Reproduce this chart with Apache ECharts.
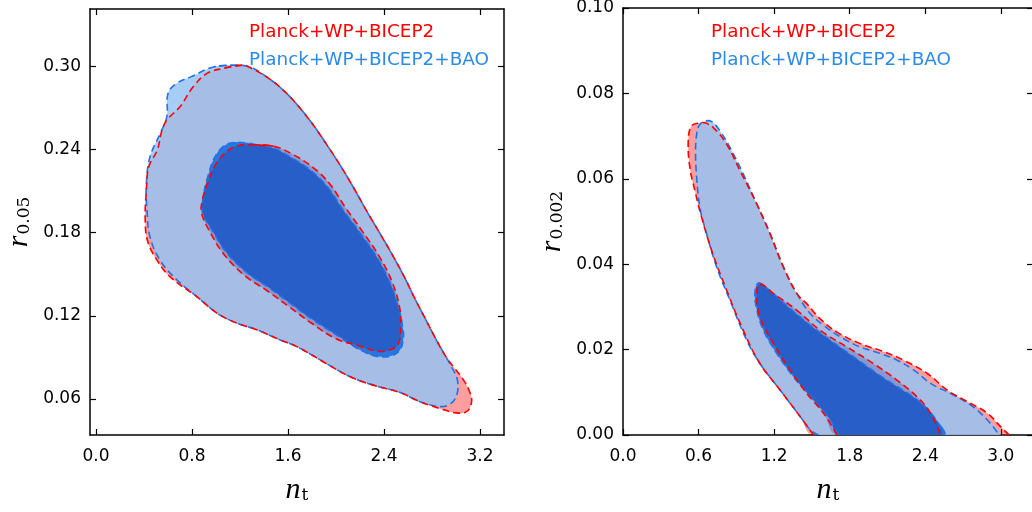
<!DOCTYPE html>
<html><head><meta charset="utf-8">
<script src="https://cdn.jsdelivr.net/npm/echarts@6/dist/echarts.min.js"></script>
<style>html,body{margin:0;padding:0;background:#fff}#c{width:1032px;height:512px}</style>
</head><body><div id="c"></div>
<script>
// ---- tick labels ----
const ticksX1 = [0, 0.8, 1.6, 2.4, 3.2];
const ticksY1 = [0.06, 0.12, 0.18, 0.24, 0.30];
const ticksX2 = [0, 0.6, 1.2, 1.8, 2.4, 3.0];
const ticksY2 = [0, 0.02, 0.04, 0.06, 0.08, 0.10];
const legendNames = ['Planck+WP+BICEP2', 'Planck+WP+BICEP2+BAO'];

// ---- left panel (n_t, r_0.05) contours ----
const redOuterL = [[1.22,0.301],[1.06,0.2986],[0.925,0.295],[0.81,0.2853],[0.70,0.271],[0.59,0.2613],[0.55,0.254],[0.51,0.2396],[0.44,0.2276],[0.42,0.2108],[0.41,0.19],[0.43,0.174],[0.51,0.160],[0.62,0.148],[0.84,0.1339],[1.01,0.1219],[1.175,0.1147],[1.34,0.110],[1.535,0.1026],[1.675,0.0978],[1.93,0.085],[2.12,0.076],[2.31,0.070],[2.54,0.0645],[2.70,0.058],[2.87,0.053],[3.00,0.050],[3.09,0.051],[3.13,0.058],[3.11,0.066],[3.06,0.074],[2.99,0.082],[2.92,0.090],[2.84,0.102],[2.75,0.117],[2.66,0.132],[2.57,0.148],[2.47,0.164],[2.37,0.179],[2.26,0.195],[2.15,0.212],[2.04,0.228],[1.92,0.244],[1.80,0.259],[1.68,0.272],[1.56,0.283],[1.43,0.292],[1.31,0.298]];
const blueOuterL = [[1.175,0.301],[0.98,0.2997],[0.79,0.2925],[0.67,0.2877],[0.60,0.2805],[0.59,0.2637],[0.535,0.2517],[0.45,0.2348],[0.42,0.2156],[0.425,0.1964],[0.45,0.1771],[0.535,0.160],[0.675,0.1459],[0.84,0.1339],[1.01,0.1219],[1.175,0.1147],[1.34,0.110],[1.535,0.1026],[1.675,0.0978],[1.93,0.085],[2.12,0.076],[2.31,0.070],[2.54,0.0645],[2.70,0.058],[2.87,0.0545],[2.96,0.057],[3.01,0.064],[3.01,0.0745],[2.97,0.082],[2.92,0.090],[2.84,0.102],[2.75,0.117],[2.66,0.132],[2.57,0.148],[2.47,0.164],[2.37,0.179],[2.26,0.195],[2.15,0.212],[2.04,0.228],[1.92,0.244],[1.80,0.259],[1.68,0.272],[1.56,0.283],[1.43,0.292],[1.30,0.299]];
const redInnerL = [[1.30,0.2435],[1.48,0.2425],[1.63,0.237],[1.81,0.227],[1.95,0.215],[2.08,0.198],[2.22,0.181],[2.36,0.163],[2.47,0.144],[2.53,0.126],[2.54,0.113],[2.52,0.100],[2.45,0.0955],[2.35,0.0945],[2.19,0.0985],[2.00,0.1035],[1.80,0.1145],[1.61,0.1265],[1.42,0.1385],[1.24,0.149],[1.07,0.164],[0.96,0.179],[0.88,0.194],[0.885,0.203],[0.93,0.216],[1.01,0.231],[1.12,0.2405],[1.22,0.2435]];
const blueInnerL = [[1.12,0.2447],[1.31,0.244],[1.48,0.241],[1.62,0.2346],[1.79,0.225],[1.93,0.213],[2.06,0.1964],[2.20,0.180],[2.34,0.1625],[2.45,0.144],[2.52,0.1264],[2.55,0.115],[2.56,0.1026],[2.51,0.0933],[2.37,0.0904],[2.20,0.0954],[2.01,0.106],[1.81,0.117],[1.62,0.129],[1.43,0.141],[1.26,0.151],[1.09,0.1654],[0.98,0.180],[0.89,0.194],[0.89,0.2036],[0.93,0.220],[1.01,0.2375]];

// ---- right panel (n_t, r_0.002) contours ----
const redOuterR = [[1.513,0],[1.407,0.0043],[1.248,0.0105],[1.088,0.0167],[0.955,0.0245],[0.823,0.0339],[0.704,0.0432],[0.624,0.0510],[0.571,0.0572],[0.531,0.0626],[0.518,0.0689],[0.545,0.0724],[0.611,0.0731],[0.65,0.0731],[0.717,0.0720],[0.823,0.0681],[0.929,0.0619],[1.062,0.0541],[1.168,0.0471],[1.274,0.0393],[1.381,0.0331],[1.460,0.0307],[1.566,0.0272],[1.699,0.0241],[1.884,0.0214],[2.070,0.0195],[2.229,0.0175],[2.416,0.0144],[2.575,0.0105],[2.734,0.0078],[2.893,0.0051],[2.999,0.0019],[3.065,0]];
const blueOuterR = [[1.553,0],[1.487,0.0012],[1.407,0.0043],[1.248,0.0105],[1.088,0.0167],[0.982,0.0222],[0.850,0.0315],[0.744,0.0393],[0.664,0.0471],[0.611,0.0533],[0.585,0.0603],[0.576,0.0665],[0.585,0.0704],[0.605,0.0725],[0.65,0.0735],[0.704,0.0734],[0.770,0.0712],[0.850,0.0673],[0.955,0.0611],[1.062,0.0541],[1.168,0.0471],[1.274,0.0393],[1.381,0.0331],[1.487,0.0284],[1.592,0.0257],[1.725,0.0230],[1.884,0.0206],[2.044,0.0191],[2.177,0.0175],[2.309,0.0152],[2.442,0.0121],[2.601,0.0097],[2.760,0.0070],[2.893,0.0035],[2.986,0]];
const redInnerR = [[1.699,0],[1.592,0.0051],[1.460,0.0097],[1.327,0.0152],[1.194,0.0214],[1.088,0.0276],[1.062,0.0331],[1.088,0.0354],[1.20,0.0330],[1.381,0.0292],[1.566,0.0245],[1.779,0.0206],[1.990,0.0167],[2.177,0.0128],[2.336,0.0089],[2.442,0.0051],[2.521,0]];
const blueInnerR = [[1.712,0],[1.646,0.0035],[1.513,0.0082],[1.354,0.0136],[1.221,0.0191],[1.115,0.0245],[1.057,0.0300],[1.049,0.0339],[1.075,0.0356],[1.115,0.0350],[1.194,0.0331],[1.327,0.0296],[1.487,0.0257],[1.646,0.0222],[1.831,0.0183],[2.017,0.0144],[2.177,0.0113],[2.336,0.0082],[2.468,0.0043],[2.548,0]];

const RED = '#ff0000', BLUE = '#1f72e8', BLUE_TXT = '#2b8ae8';
const SM = 0.4;

function fillSeries(name, pts, gi, fill, z) {
  return {
    type: 'custom', name: name, xAxisIndex: gi * 2, yAxisIndex: gi * 2, z: z, silent: true, clip: true,
    data: pts,
    renderItem: function (params, api) {
      if (params.dataIndex !== 0) return;
      const p = pts.map(d => api.coord(d));
      return { type: 'polygon', shape: { points: p, smooth: SM }, style: { fill: fill } };
    }
  };
}
function lineSeries(name, pts, gi, color, closed, z) {
  return {
    type: 'custom', name: name, xAxisIndex: gi * 2, yAxisIndex: gi * 2, z: z, silent: true, clip: true,
    data: pts,
    renderItem: function (params, api) {
      if (params.dataIndex !== 0) return;
      let p = pts.map(d => api.coord(d));
      if (closed) p = p.concat([p[0], p[1]]);
      return { type: 'polyline', shape: { points: p, smooth: SM }, style: { stroke: color, lineWidth: 1.6, lineDash: [7, 4], fill: null } };
    }
  };
}

const series = [];
[[redOuterL, blueOuterL, redInnerL, blueInnerL, 0, true], [redOuterR, blueOuterR, redInnerR, blueInnerR, 1, false]].forEach(s => {
  const [ro, bo, ri, bi, g, closed] = s;
  series.push(fillSeries(legendNames[0], ro, g, 'rgba(255,0,0,0.38)', 2));
  series.push(fillSeries(legendNames[1], bo, g, 'rgba(149,195,244,0.84)', 3));
  series.push(fillSeries(legendNames[1], bi, g, 'rgb(40,118,224)', 4));
  series.push(fillSeries(legendNames[0], ri, g, 'rgba(40,0,104,0.2)', 5));
  series.push(lineSeries(legendNames[1], bo, g, BLUE, closed, 6));
  series.push(lineSeries(legendNames[0], ro, g, RED, closed, 7));
  series.push(lineSeries(legendNames[1], bi, g, BLUE, closed, 6));
  series.push(lineSeries(legendNames[0], ri, g, RED, closed, 7));
});

const axisLine = { show: true, onZero: false, lineStyle: { color: '#000', width: 1.5 } };
const labelFont = { color: '#000', fontSize: 17, fontFamily: 'DejaVu Sans' };
const nameRich = {
  i: { fontFamily: 'Liberation Serif', fontStyle: 'italic', fontSize: 30, color: '#000' },
  s: { fontFamily: 'DejaVu Serif', fontSize: 17, color: '#000', padding: [12, 0, 0, 1] }
};
function xAx(gi, min, max, ticks, dec, bottom) {
  return {
    type: 'value', gridIndex: gi, min: min, max: max, position: bottom ? 'bottom' : 'top',
    axisLine: axisLine, splitLine: { show: false },
    axisTick: { show: true, inside: true, length: 6, customValues: ticks, lineStyle: { color: '#000', width: 1.2 } },
    axisLabel: Object.assign({ show: bottom, customValues: ticks, margin: 13, formatter: v => v.toFixed(dec) }, labelFont),
    name: bottom ? '{i|n}{s|t}' : '', nameLocation: 'middle', nameGap: 40,
    nameTextStyle: { rich: nameRich }
  };
}
function yAx(gi, min, max, ticks, dec, left, margin, nm, gap) {
  return {
    type: 'value', gridIndex: gi, min: min, max: max, position: left ? 'left' : 'right',
    axisLine: axisLine, splitLine: { show: false },
    axisTick: { show: true, inside: true, length: 6, customValues: ticks, lineStyle: { color: '#000', width: 1.2 } },
    axisLabel: Object.assign({ show: left, customValues: ticks, margin: margin, formatter: v => v.toFixed(dec) }, labelFont),
    name: left ? nm : '', nameLocation: 'middle', nameGap: gap, nameRotate: 90,
    nameTextStyle: { rich: nameRich }
  };
}

const chart = echarts.init(document.getElementById('c'), null, { renderer: 'canvas' });
chart.setOption({
  animation: false,
  backgroundColor: '#fff',
  grid: [
    { left: 90, top: 9, width: 414, height: 426, outerBoundsMode: 'none', containLabel: false },
    { left: 623, top: 8, width: 410, height: 427, outerBoundsMode: 'none', containLabel: false }
  ],
  xAxis: [
    xAx(0, -0.05, 3.40, ticksX1, 1, true), xAx(0, -0.05, 3.40, ticksX1, 1, false),
    xAx(1, 0, 3.255, ticksX2, 1, true), xAx(1, 0, 3.255, ticksX2, 1, false)
  ],
  yAxis: [
    yAx(0, 0.034, 0.3415, ticksY1, 2, true, 9, '{i|r}{s|0.05}', 56), yAx(0, 0.034, 0.3415, ticksY1, 2, false, 8, '', 0),
    yAx(1, 0, 0.1, ticksY2, 2, true, 9, '{i|r}{s|0.002}', 56), yAx(1, 0, 0.1, ticksY2, 2, false, 8, '', 0)
  ],
  graphic: [
    { type: 'text', left: 249, top: 23, style: { text: legendNames[0], fill: RED, fontSize: 18.4, fontFamily: 'DejaVu Sans' } },
    { type: 'text', left: 249, top: 51, style: { text: legendNames[1], fill: BLUE_TXT, fontSize: 18.4, fontFamily: 'DejaVu Sans' } },
    { type: 'text', left: 711, top: 23, style: { text: legendNames[0], fill: RED, fontSize: 18.4, fontFamily: 'DejaVu Sans' } },
    { type: 'text', left: 711, top: 51, style: { text: legendNames[1], fill: BLUE_TXT, fontSize: 18.4, fontFamily: 'DejaVu Sans' } }
  ],
  series: series
});
</script></body></html>
